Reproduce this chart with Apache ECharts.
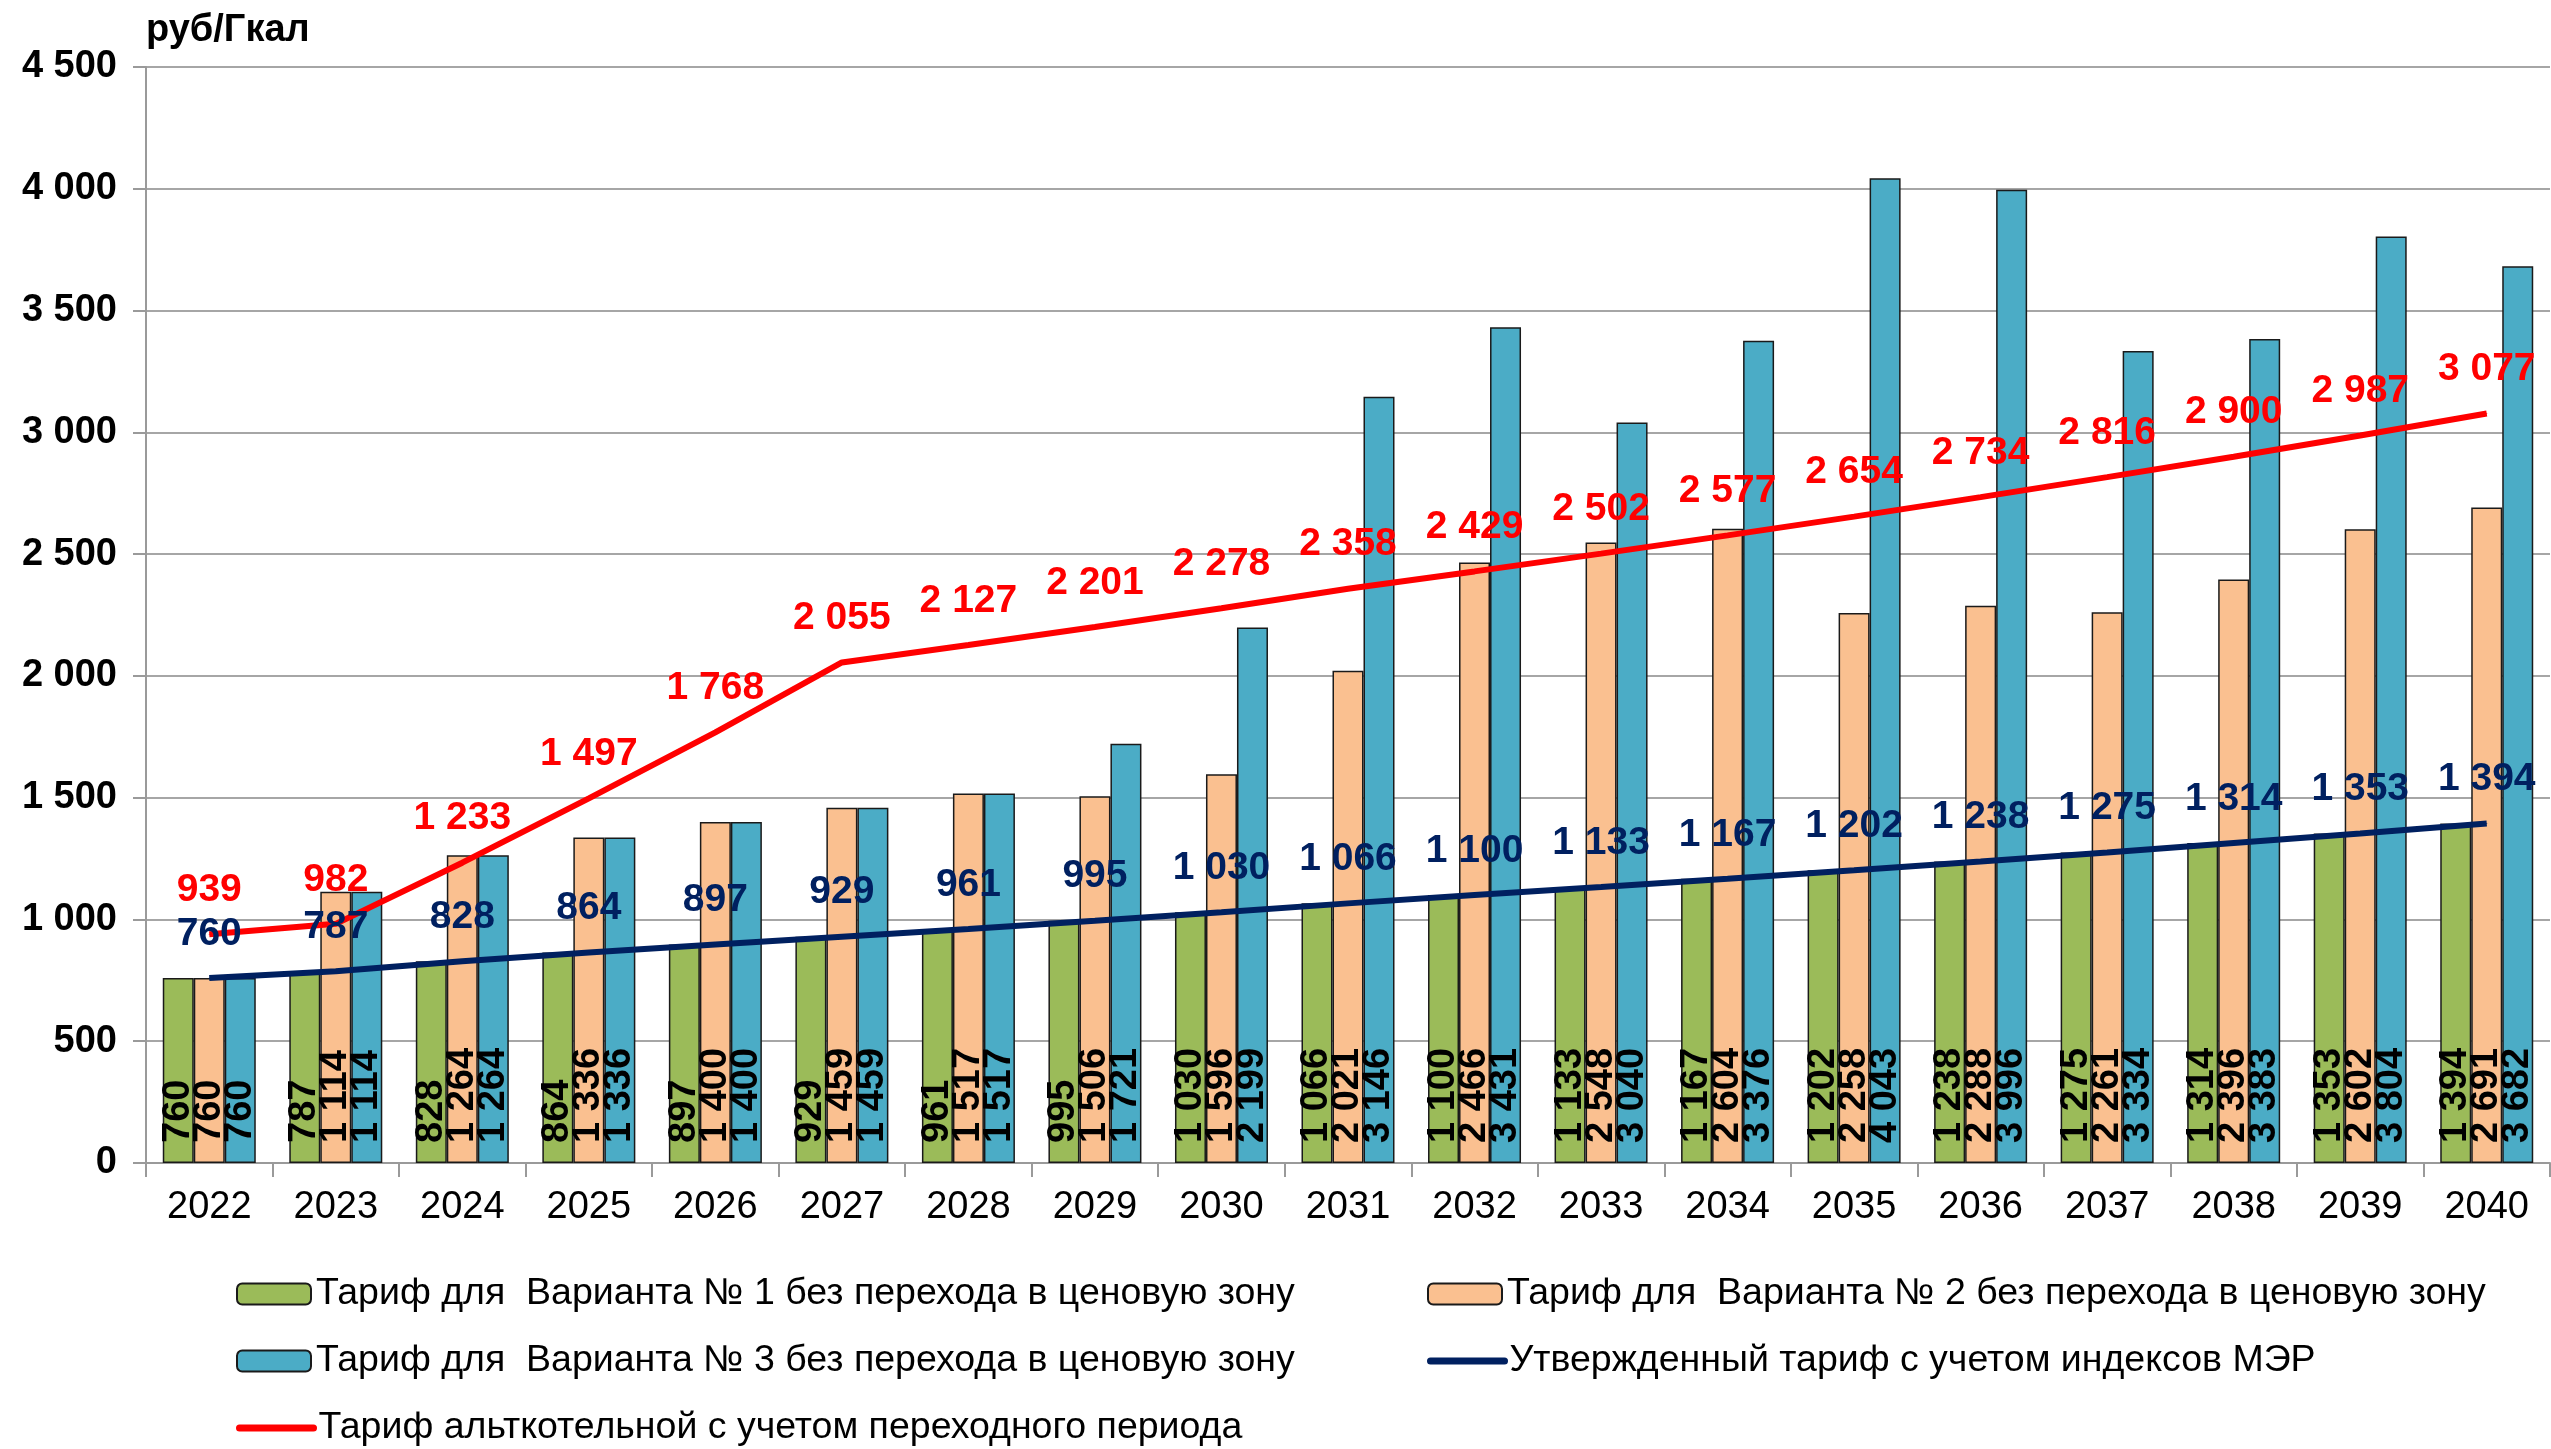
<!DOCTYPE html>
<html>
<head>
<meta charset="utf-8">
<script src="https://cdn.jsdelivr.net/npm/echarts@6/dist/echarts.min.js"></script>
<style>
html,body{margin:0;padding:0;background:#fff;}
#main{width:2551px;height:1449px;}
</style>
</head>
<body>
<div id="main"></div>
<script>
var years=['2022','2023','2024','2025','2026','2027','2028','2029','2030','2031','2032','2033','2034','2035','2036','2037','2038','2039','2040'];
var var1=[760,787,828,864,897,929,961,995,1030,1066,1100,1133,1167,1202,1238,1275,1314,1353,1394];
var var2=[760,1114,1264,1336,1400,1459,1517,1506,1596,2021,2466,2548,2604,2258,2288,2261,2396,2602,2691];
var var3=[760,1114,1264,1336,1400,1459,1517,1721,2199,3146,3431,3040,3376,4043,3996,3334,3383,3804,3682];
var mer=[760,787,828,864,897,929,961,995,1030,1066,1100,1133,1167,1202,1238,1275,1314,1353,1394];
var alt=[939,982,1233,1497,1768,2055,2127,2201,2278,2358,2429,2502,2577,2654,2734,2816,2900,2987,3077];

var names=['Тариф для  Варианта № 1 без перехода в ценовую зону',
	'Тариф для  Варианта № 2 без перехода в ценовую зону',
	'Тариф для  Варианта № 3 без перехода в ценовую зону',
	'Утвержденный тариф с учетом индексов МЭР',
	'Тариф альткотельной с учетом переходного периода'];

var FONT='"Liberation Sans", Arial, sans-serif';

function fmt(v){
	return String(v).replace(/\B(?=(\d{3})+(?!\d))/g,' ');
}

function bar_series(name,data,color){
	return {
		name:name,
		type:'bar',
		data:data,
		barWidth:31,
		barGap:'0%',
		itemStyle:{color:color,borderColor:'#1a1a1a',borderWidth:1.5},
		label:{
			show:true,
			position:'insideBottom',
			rotate:90,
			align:'left',
			verticalAlign:'middle',
			distance:20,
			fontFamily:FONT,
			fontSize:38,
			fontWeight:'bold',
			color:'#000',
			formatter:function(p){return fmt(p.value);}
		}
	};
}

function line_series(name,data,color){
	return {
		name:name,
		type:'line',
		data:data,
		symbol:'circle',
		symbolSize:1,
		z:5,
		lineStyle:{color:color,width:6},
		itemStyle:{color:color},
		label:{
			show:true,
			position:'top',
			distance:24,
			fontFamily:FONT,
			fontSize:39,
			fontWeight:'bold',
			color:color,
			formatter:function(p){return fmt(p.value);}
		}
	};
}

function legend_item(idx,left,top,isLine){
	var item={name:names[idx]};
	if(isLine){
		item.itemStyle={opacity:0};
		item.lineStyle={width:7,cap:'round'};
	}
	return {
		left:left,
		top:top,
		padding:0,
		itemWidth:74,
		itemHeight:21,
		selectedMode:false,
		textStyle:{fontFamily:FONT,fontSize:37.5,color:'#000',lineHeight:40},
		data:[item]
	};
}

var myChart=echarts.init(document.getElementById('main'));
var option={
	animation:false,
	backgroundColor:'#fff',
	title:{
		text:'руб/Гкал',
		left:141,
		top:7,
		textStyle:{fontFamily:FONT,fontSize:38,fontWeight:'bold',color:'#000'}
	},
	legend:[
		legend_item(0,236,1274,false),
		legend_item(1,1427,1274,false),
		legend_item(2,236,1341,false),
		legend_item(3,1427,1341,true),
		legend_item(4,236,1408,true)
	],
	grid:{left:146,right:1,top:67,bottom:286,containLabel:false},
	xAxis:[{
		type:'category',
		data:years,
		axisLine:{lineStyle:{color:'#9a9a9a',width:2}},
		axisTick:{show:true,length:14,lineStyle:{color:'#9a9a9a',width:2}},
		axisLabel:{fontFamily:FONT,fontSize:38,color:'#000',margin:26}
	}],
	yAxis:[{
		type:'value',
		min:0,
		max:4500,
		interval:500,
		axisLine:{show:true,lineStyle:{color:'#9a9a9a',width:2}},
		axisTick:{show:true,length:13,lineStyle:{color:'#9a9a9a',width:2}},
		splitLine:{lineStyle:{color:'#a6a6a6',width:2}},
		axisLabel:{fontFamily:FONT,fontSize:38,fontWeight:'bold',color:'#000',margin:29,
			formatter:function(v){return fmt(v);}}
	}],
	series:[
		bar_series(names[0],var1,'#9BBB59'),
		bar_series(names[1],var2,'#FAC090'),
		bar_series(names[2],var3,'#4BACC6'),
		line_series(names[3],mer,'#002060'),
		line_series(names[4],alt,'#FF0000')
	]
};
myChart.setOption(option);
</script>
</body>
</html>
